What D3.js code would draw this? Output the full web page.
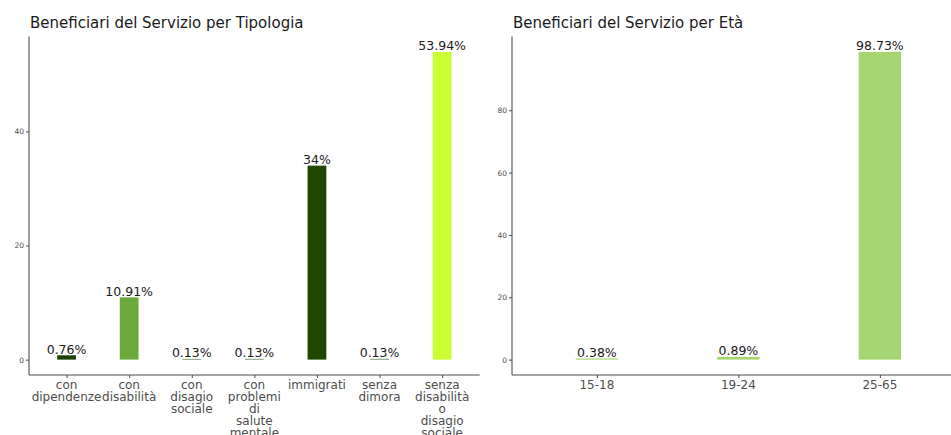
<!DOCTYPE html>
<html><head><meta charset="utf-8">
<script src="https://cdn.jsdelivr.net/npm/d3@7"></script>
<style>body{margin:0;background:#fff;overflow:hidden}svg{display:block;font-family:"DejaVu Sans",sans-serif}</style>
</head><body>
<svg id="c" width="951" height="435"></svg>
<script>
const tipCategories = ["con dipendenze","con disabilità","con disagio sociale","con problemi di salute mentale","immigrati","senza dimora","senza disabilità o disagio sociale"];
const tipValues = [0.76, 10.91, 0.13, 0.13, 34, 0.13, 53.94];
const tipLabels = ["0.76%","10.91%","0.13%","0.13%","34%","0.13%","53.94%"];
const tipColors = ["#1b3f00","#6aaa3a","#5f7f4f","#5f7f4f","#1e4800","#5f7f4f","#ccff33"];
const tipTicks = [0, 20, 40];

const etaCategories = ["15-18","19-24","25-65"];
const etaValues = [0.38, 0.89, 98.73];
const etaLabels = ["0.38%","0.89%","98.73%"];
const etaColor = "#a6d470";
const etaTicks = [0, 20, 40, 60, 80];

const svg = d3.select("#c");

function panel(opts){
  const g = svg.append("g");
  const top = 36.5, bottom = 375;
  const maxV = d3.max(opts.values);
  const y = d3.scaleLinear().domain([-0.05*maxV, 1.05*maxV]).range([bottom, top]);
  const n = opts.cats.length;
  const unit = opts.unit;
  const cx = c => opts.left + (0.6 + opts.cats.indexOf(c)) * unit;
  const bw = 0.3 * unit;
  const right = opts.left + (n - 1 + 1.2) * unit;

  g.append("text").attr("x", opts.left + 1).attr("y", 28).attr("font-size", 15).attr("fill", "#1a1a1a").text(opts.title);

  g.selectAll("rect.bar").data(opts.cats).join("rect")
    .attr("x", c => cx(c) - bw/2)
    .attr("width", bw)
    .attr("y", (c,i) => y(opts.values[i]))
    .attr("height", (c,i) => Math.max(0.6, y(0) - y(opts.values[i])))
    .attr("fill", (c,i) => opts.colors[i]);

  g.selectAll("text.lab").data(opts.cats).join("text")
    .attr("x", c => cx(c))
    .attr("y", (c,i) => y(opts.values[i]) - 1.5)
    .attr("text-anchor", "middle").attr("font-size", 12.5).attr("fill", "#1a1a1a")
    .text((c,i) => opts.labels[i]);

  const yAxis = d3.axisLeft(y).tickValues(opts.ticks).tickSize(3).tickPadding(2);
  const ya = g.append("g").attr("transform", `translate(${opts.left},0)`).call(yAxis);
  ya.select(".domain").attr("d", `M0,${top}V${bottom}`).attr("stroke", "#4d4d4d").attr("stroke-width", 1.1);
  ya.selectAll(".tick line").attr("stroke", "#4d4d4d");
  ya.selectAll(".tick text").attr("font-size", 7.5).attr("fill", "#4d4d4d").attr("font-family", "DejaVu Sans");

  const xs = d3.scalePoint().domain(opts.cats).range([cx(opts.cats[0]), cx(opts.cats[n-1])]);
  const xAxis = d3.axisBottom(xs).tickSize(3).tickPadding(2).tickFormat("");
  const xa = g.append("g").attr("transform", `translate(0,${bottom})`).call(xAxis);
  xa.select(".domain").attr("d", `M${opts.left},0H${right}`).attr("stroke", "#4d4d4d").attr("stroke-width", 1.1);
  xa.selectAll(".tick line").attr("stroke", "#4d4d4d");
  opts.cats.forEach(c => {
    const words = opts.wrap ? c.split(" ") : [c];
    const t = g.append("text").attr("x", cx(c)).attr("y", bottom + 14)
      .attr("text-anchor", "middle").attr("font-size", 12).attr("fill", "#4d4d4d");
    words.forEach((w, k) => t.append("tspan").attr("x", cx(c)).attr("dy", k === 0 ? 0 : 12).text(w));
  });
}

panel({title: "Beneficiari del Servizio per Tipologia", cats: tipCategories, values: tipValues, labels: tipLabels,
  colors: tipColors, ticks: tipTicks, left: 29, unit: 62.6, wrap: true});
panel({title: "Beneficiari del Servizio per Età", cats: etaCategories, values: etaValues, labels: etaLabels,
  colors: etaCategories.map(() => etaColor), ticks: etaTicks, left: 512, unit: 141.5, wrap: false});
</script>
</body></html>
